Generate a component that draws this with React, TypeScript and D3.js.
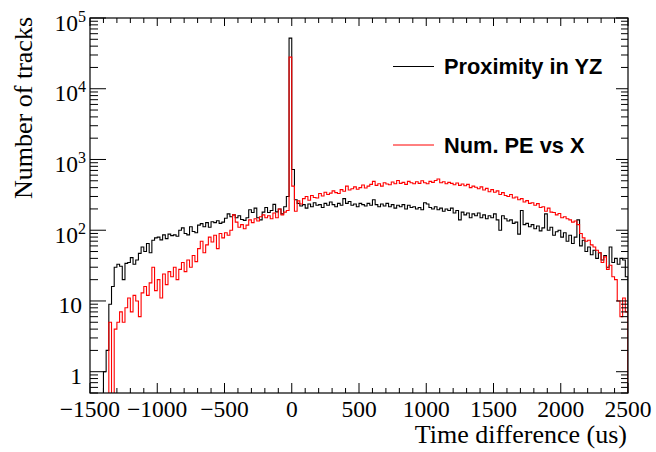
import React from "react";
import * as d3 from "d3";

// 20 us bins from -1500 to 2500 (200 bins)
const binStart = -1500;
const binWidth = 20;

// Proximity in YZ (black)
const proximityYZ = [
  0, 0, 0, 0, 0, 1, 2, 9, 16, 30,
  33, 31, 20, 34, 35, 41, 33, 38, 47, 58,
  50, 65, 48, 72, 78, 80, 73, 86, 76, 88,
  84, 86, 82, 100, 108, 90, 86, 112, 96, 92,
  118, 124, 112, 128, 110, 132, 128, 136, 125, 130,
  148, 170, 155, 165, 150, 160, 142, 138, 150, 195,
  178, 205, 150, 140, 180, 210, 178, 190, 232, 182,
  200, 170, 215, 300, 52000, 720, 270, 240, 220, 230,
  205, 235, 215, 245, 225, 230, 210, 240, 225, 250,
  230, 215, 240, 225, 280, 240, 255, 225, 235, 215,
  240, 230, 220, 240, 225, 270, 230, 215, 235, 220,
  240, 215, 230, 205, 225, 215, 230, 200, 225, 210,
  215, 200, 210, 195, 245, 235, 210, 200, 215, 195,
  205, 185, 200, 190, 205, 175, 190, 140, 180, 165,
  175, 150, 170, 160, 175, 150, 165, 145, 160, 150,
  170, 140, 100, 160, 145, 135, 140, 125, 130, 88,
  190, 120, 125, 112, 120, 105, 115, 98, 108, 170,
  100, 110, 85, 95, 100, 80, 92, 70, 85, 65,
  80, 140, 60, 72, 50, 58, 45, 52, 40, 48,
  38, 44, 30, 58, 35, 40, 33, 40, 38, 22,
];

// Num. PE vs X (red)
const numPEvsX = [
  0, 0, 0, 0, 0, 0, 0, 5, 0, 4,
  5, 7, 5, 8, 11, 7, 12, 10, 6, 13,
  16, 12, 18, 30, 14, 20, 11, 24, 17, 26,
  22, 30, 20, 28, 35, 26, 38, 30, 44, 36,
  55, 70, 48, 62, 80, 68, 85, 55, 90, 78,
  92, 85, 100, 165, 130, 110, 120, 105, 118, 140,
  128, 145, 135, 155, 165, 150, 160, 145, 175, 150,
  200, 165, 180, 190, 28000, 420, 185, 260, 235, 280,
  300, 265, 310, 290, 285, 330, 305, 345, 320, 335,
  360, 340, 330, 375, 355, 420, 370, 385, 410, 380,
  400, 435, 395, 420, 445, 490, 430, 455, 420, 470,
  450, 440, 480, 455, 505, 460, 475, 445, 490, 470,
  455, 485, 460, 500, 470, 455, 490, 475, 505, 530,
  470, 485, 455, 475, 460, 440, 465, 430, 450, 425,
  445, 400, 420, 405, 385, 410, 370, 390, 350, 375,
  345, 360, 320, 340, 310, 300, 320, 285, 295, 270,
  280, 250, 262, 240, 245, 225, 238, 210, 215, 185,
  205, 180, 178, 165, 172, 150, 155, 145, 140, 130,
  135, 120, 90, 78, 70, 72, 62, 58, 52, 48,
  35, 42, 28, 32, 22, 20, 10, 6, 11, 7,
];

const series = [
  { name: "Proximity in YZ", values: proximityYZ, color: "#000000" },
  { name: "Num. PE vs X", values: numPEvsX, color: "#ff0000" },
];

const xMajorTicks = [-1500, -1000, -500, 0, 500, 1000, 1500, 2000, 2500];
const yDecades = [1, 10, 100, 1000, 10000, 100000];

const W = 656;
const H = 452;
const left = 90;
const right = 628;
const top = 18;
const bottom = 393;

const serif = "'Liberation Serif', 'DejaVu Serif', serif";
const sans = "'Liberation Sans', Arial, sans-serif";

export default function App() {
  const x = d3.scaleLinear().domain([-1500, 2500]).range([left, right]);
  const y = d3.scaleLog().domain([0.5, 1e5]).range([bottom, top]);

  const xMinor = d3.range(-1500, 2501, 100);
  const yMinor: number[] = [];
  for (let e = -1; e <= 4; e++) {
    for (let m = 1; m <= 9; m++) {
      const v = m * Math.pow(10, e);
      if (v >= 0.5 && v <= 1e5) yMinor.push(v);
    }
  }
  yMinor.push(1e5);

  const line = d3
    .line<[number, number]>()
    .x((d) => x(d[0]))
    .y((d) => y(Math.max(d[1], 0.3)));

  const stepPoints = (vals: number[]): [number, number][] => {
    const pts: [number, number][] = [[binStart, 0]];
    vals.forEach((v, i) => {
      const x0 = binStart + i * binWidth;
      pts.push([x0, v], [x0 + binWidth, v]);
    });
    pts.push([binStart + vals.length * binWidth, 0]);
    return pts;
  };

  const tickLabel = (d: number) => {
    if (d === 1) return <tspan>1</tspan>;
    if (d === 10) return <tspan>10</tspan>;
    const exp = Math.round(Math.log10(d));
    return (
      <>
        <tspan>10</tspan>
        <tspan fontSize={16} dy={-9}>
          {exp}
        </tspan>
      </>
    );
  };

  return (
    <svg
      width={W}
      height={H}
      style={{ position: "absolute", left: 0, top: 0, background: "#fff" }}
    >
      <defs>
        <clipPath id="plot">
          <rect x={left} y={top} width={right - left} height={bottom - top} />
        </clipPath>
      </defs>

      {/* histograms */}
      <g clipPath="url(#plot)" fill="none" strokeWidth={1.1}>
        {series.map((s) => (
          <path key={s.name} d={line(stepPoints(s.values)) || ""} stroke={s.color} />
        ))}
      </g>

      {/* frame */}
      <rect
        x={left}
        y={top}
        width={right - left}
        height={bottom - top}
        fill="none"
        stroke="#000"
        strokeWidth={1.2}
      />

      {/* ticks */}
      <g stroke="#000" strokeWidth={1}>
        {xMinor.map((d) => {
          const major = d % 500 === 0;
          const px = x(d);
          return (
            <g key={d}>
              <line x1={px} x2={px} y1={bottom} y2={bottom - (major ? 10 : 5)} />
              <line x1={px} x2={px} y1={top} y2={top + (major ? 8 : 5)} />
            </g>
          );
        })}
        {yMinor.map((d) => {
          const major = yDecades.includes(d);
          const py = y(d);
          return (
            <g key={d}>
              <line x1={left} x2={left + (major ? 16 : 8)} y1={py} y2={py} />
              <line x1={right} x2={right - (major ? 12 : 7)} y1={py} y2={py} />
            </g>
          );
        })}
      </g>

      {/* x tick labels */}
      <g fontFamily={serif} fontSize={23.5} textAnchor="middle" fill="#000">
        {xMajorTicks.map((d) => (
          <text key={d} x={x(d)} y={417}>
            {d < 0 ? `\u2212${-d}` : d}
          </text>
        ))}
      </g>

      {/* y tick labels */}
      <g fontFamily={serif} fontSize={23.5} textAnchor="end" fill="#000">
        {yDecades.map((d) => (
          <text key={d} x={d >= 100 ? 86 : 82} y={y(d) + 12.5}>
            {tickLabel(d)}
          </text>
        ))}
      </g>

      {/* axis titles */}
      <text
        x={627}
        y={443}
        textAnchor="end"
        fontFamily={serif}
        fontSize={26}
        fill="#000"
      >
        Time difference (us)
      </text>
      <text
        transform="translate(32,17) rotate(-90)"
        textAnchor="end"
        fontFamily={serif}
        fontSize={26}
        fill="#000"
      >
        Number of tracks
      </text>

      {/* legend */}
      {series.map((s, i) => {
        const ly = i === 0 ? 66.5 : 145;
        return (
          <g key={s.name}>
            <line x1={393} x2={434} y1={ly} y2={ly} stroke={s.color} strokeWidth={1} />
            <text
              x={444}
              y={ly + 7.5}
              fontFamily={sans}
              fontWeight="bold"
              fontSize={21.8}
              fill="#000"
            >
              {s.name}
            </text>
          </g>
        );
      })}
    </svg>
  );
}
